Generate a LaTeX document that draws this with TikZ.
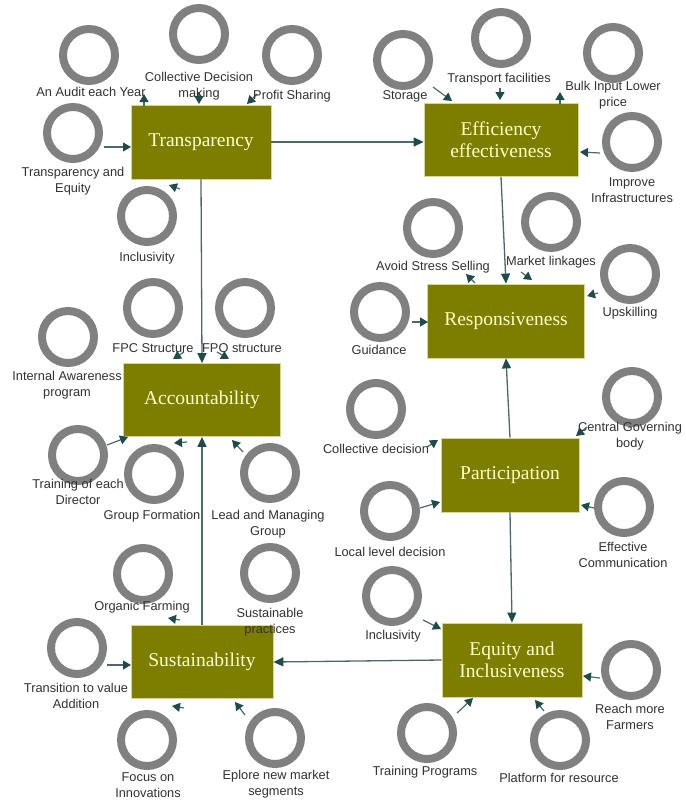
\documentclass[tikz,border=0pt]{standalone}
\usepackage{fontspec}
\setmainfont{Liberation Serif}
\newfontfamily\lblfont{Liberation Sans}
\usetikzlibrary{arrows.meta, calc}
\definecolor{boxolive}{RGB}{125,125,0}
\definecolor{boxedge}{RGB}{215,215,150}
\definecolor{titlecol}{RGB}{255,255,205}
\definecolor{ringgray}{RGB}{128,128,128}
\definecolor{linecol}{RGB}{75,105,105}
\definecolor{tipcol}{RGB}{30,75,75}
\definecolor{lblcol}{RGB}{50,50,50}

\begin{document}
\begin{tikzpicture}[x=1pt, y=-1pt,
  box/.style={draw=boxedge, line width=0.8pt, fill=boxolive, text=titlecol,
    align=center, inner sep=0pt, font=\fontsize{19.5}{22}\selectfont},
  ring/.style={circle, draw=ringgray, line width=8pt, minimum size=52pt, inner sep=0pt},
  lbl/.style={text=lblcol, align=center, inner sep=0pt,
    font=\lblfont\fontsize{12.8}{15.5}\selectfont},
  link/.style={draw=linecol, line width=1.3pt, -{Triangle[length=10pt, width=9pt, color=tipcol]}},
  sarr/.style={draw=linecol, line width=1.2pt, -{Triangle[length=8pt, width=9pt, color=tipcol]}},
]
  \fill[white] (0,0) rectangle (685,800);
  \useasboundingbox (0,0) rectangle (685,800);

  % factor circles
  \foreach \n/\cx/\cy in {audit/89/55, colldm/199/34, profit/292/55, treq/73/133, inclA/147/216,
      storage/403/60, transport/501/38, bulk/613/53, improve/632/142,
      avoid/433/228, market/551/222, upskill/630/274, guidance/380/312,
      fpc/153/308, fpo/245/308, internal/68/337, training/78/455, groupf/154/474, lead/270/473,
      organic/143/574, sustpr/270/573, transition/77/648, focus/147/740, eplore/275/738,
      colld/376/409, local/390/511, central/632/397, effective/624/507,
      inclB/392/596, reach/631/670, trainprog/427/733, platform/560/740} {%
    \node[ring] (\n) at (\cx,\cy) {};
  }

  % principles
  \node[box, minimum width=140pt, minimum height=74pt] (tr) at (201,142) {Transparency};
  \node[box, minimum width=154pt, minimum height=73pt] (ef) at (501,140) {Efficiency\\effectiveness};
  \node[box, minimum width=157pt, minimum height=74pt] (re) at (506,321) {Responsiveness};
  \node[box, minimum width=157pt, minimum height=73pt] (ac) at (202,400) {Accountability};
  \node[box, minimum width=138pt, minimum height=74pt] (pa) at (510,475) {Participation};
  \node[box, minimum width=142pt, minimum height=73pt] (su) at (202,662) {Sustainability};
  \node[box, minimum width=140pt, minimum height=74pt] (eq) at (512,660) {Equity and\\Inclusiveness};

  % links between principles
  \draw[link] (tr.east) -- (tr.east -| ef.west);
  \draw[link] (tr.south) -- (ac.north);
  \draw[link] (ef.south) -- (re.north);
  \draw[link] (pa.north) -- (re.south);
  \draw[link] (pa.south) -- (eq.north);
  \draw[link] (eq.west) -- (su.east);
  \draw[link] (su.north) -- (ac.south);

  % short arrows at the boxes
  \foreach \b/\x/\y/\u/\v in {tr/-57/-36/-57/-48, tr/-2/-50/-2/-38, tr/56/-48/46/-38,
      tr/-97/5/-70/5, tr/-21/47/-32/43,
      ef/-68/-53/-49/-39, ef/-1/-52/-1/-40, ef/59/-36/59/-48, ef/99/13/79/12,
      re/-31/-38/-40/-47, re/15/-49/26/-41, re/92/-28/81/-25, re/-94/1/-78/1,
      ac/-18/-48/-29/-41, ac/15/-48/27/-41, ac/-95/45/-74/37, ac/-15/42/-28/43, ac/41/52/30/40,
      su/-22/-42/-34/-44, su/-95/3/-71/3, su/-18/46/-30/44, su/43/53/33/40,
      pa/-83/-28/-72/-35, pa/-90/33/-70/27, pa/77/-48/66/-39, pa/84/33/71/30,
      eq/-89/-40/-71/-31, eq/88/18/71/16, eq/-55/53/-39/38, eq/32/51/23/40} {%
    \draw[sarr] ($(\b)+(\x,\y)$) -- ($(\b)+(\u,\v)$);
  }

  % factor labels
  \foreach \n/\lx/\ly/\t in {audit/91/92/{An Audit each Year}, colldm/199/86/{Collective Decision\\making},
      profit/292/96/{Profit Sharing}, treq/73/181/{Transparency and\\Equity}, inclA/147/258/{Inclusivity},
      storage/405/96/{Storage}, transport/499/79/{Transport facilities},
      bulk/613/95/{Bulk Input Lower\\price}, improve/632/190/{Improve\\Infrastructures},
      avoid/433/267/{Avoid Stress Selling}, market/551/262/{Market linkages},
      upskill/630/313/{Upskilling}, guidance/379/350/{Guidance},
      fpc/153/348/{FPC Structure}, fpo/242/348/{FPO structure},
      internal/67/385/{Internal Awareness\\program}, training/78/492/{Training of each\\Director},
      groupf/152/516/{Group Formation}, lead/268/524/{Lead and Managing\\Group},
      organic/142/607/{Organic Farming}, sustpr/270/622/{Sustainable\\practices},
      transition/76/696/{Transition to value\\Addition}, focus/148/785/{Focus on\\Innovations},
      eplore/276/784/{Eplore new market\\segments},
      colld/376/449/{Collective decision}, local/390/552/{Local level decision},
      central/630/436/{Central Governing\\body}, effective/623/555/{Effective\\Communication},
      inclB/393/636/{Inclusivity}, reach/630/717/{Reach more\\Farmers},
      trainprog/425/772/{Training Programs}, platform/559/778/{Platform for resource}} {%
    \node[lbl] (\n-t) at (\lx,\ly) {\t};
  }
\end{tikzpicture}
\end{document}
